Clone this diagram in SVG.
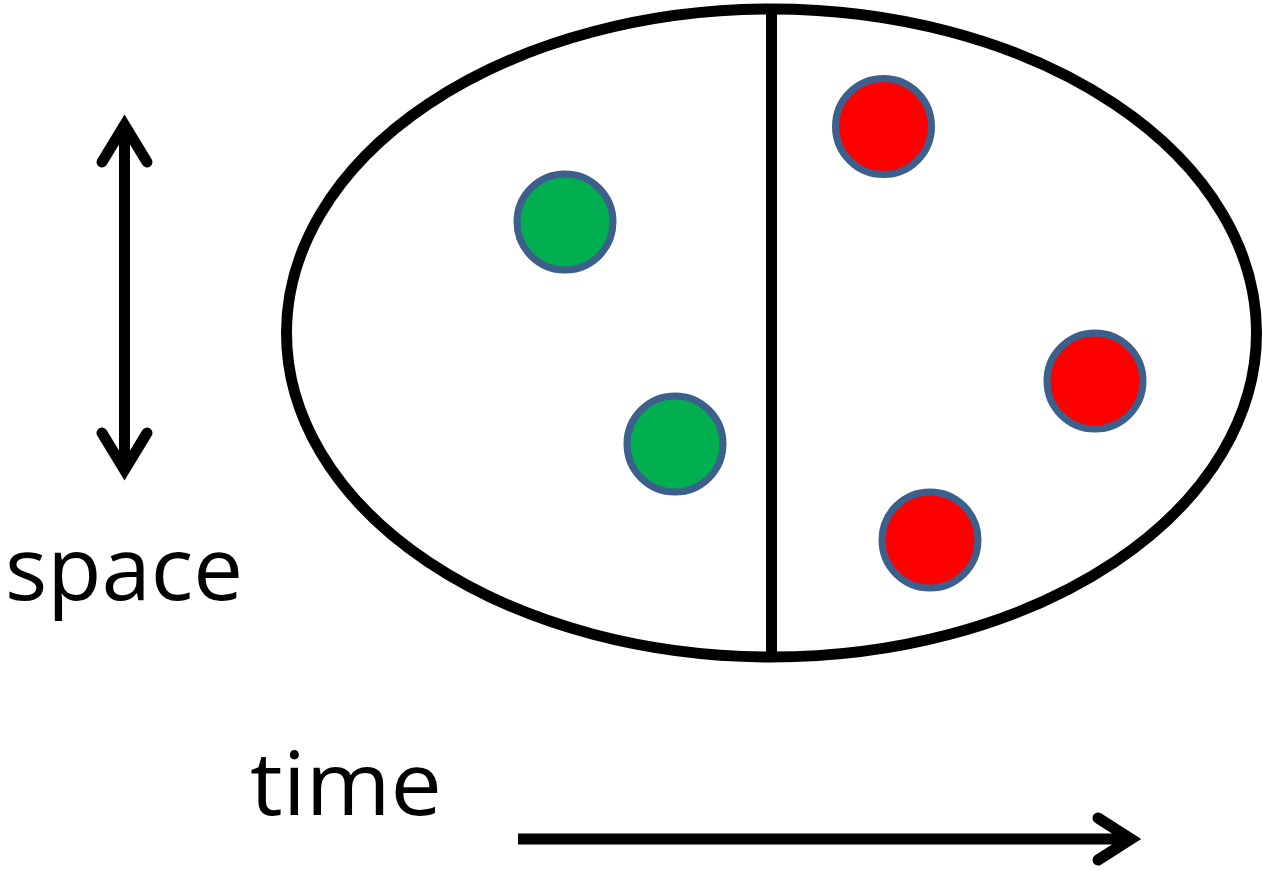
<svg xmlns="http://www.w3.org/2000/svg" width="1262" height="870" viewBox="0 0 1262 870">
<style>
.ln{fill:none;stroke:#000;stroke-width:11}
.hd{fill:none;stroke:#000;stroke-width:11;stroke-linecap:round;stroke-linejoin:miter}
.dot{stroke:#3c5f8b;stroke-width:7}
.g{fill:#00b050}
.r{fill:#ff0000}
.lbl{font-family:"Open Sans","Liberation Sans",sans-serif;font-size:88px;fill:#000}
</style>
<rect width="1262" height="870" fill="#fff"/>
<g id="region">
<ellipse class="ln" cx="771.5" cy="333" rx="485" ry="324"/>
<line class="ln" x1="771.5" y1="9" x2="771.5" y2="657"/>
</g>
<g id="green1"><circle class="dot g" cx="565" cy="222" r="48"/></g>
<g id="green2"><circle class="dot g" cx="675" cy="444" r="48"/></g>
<g id="red1"><circle class="dot r" cx="883.5" cy="126.5" r="48"/></g>
<g id="red2"><circle class="dot r" cx="1095" cy="381" r="48"/></g>
<g id="red3"><circle class="dot r" cx="930" cy="540" r="48"/></g>
<g id="connectors">
<line class="ln" x1="124.5" y1="126" x2="124.5" y2="470"/>
<polyline class="hd" points="102,162 124.5,125 147,162"/>
<polyline class="hd" points="102,433 124.5,470 147,433"/>
<line class="ln" x1="518" y1="839" x2="1130" y2="839"/>
<polyline class="hd" points="1098,818 1131,839 1098,860"/>
</g>
<text class="lbl" x="5" y="600" textLength="238" lengthAdjust="spacingAndGlyphs">space</text>
<text class="lbl" x="250" y="815" textLength="192" lengthAdjust="spacingAndGlyphs">time</text>
</svg>
